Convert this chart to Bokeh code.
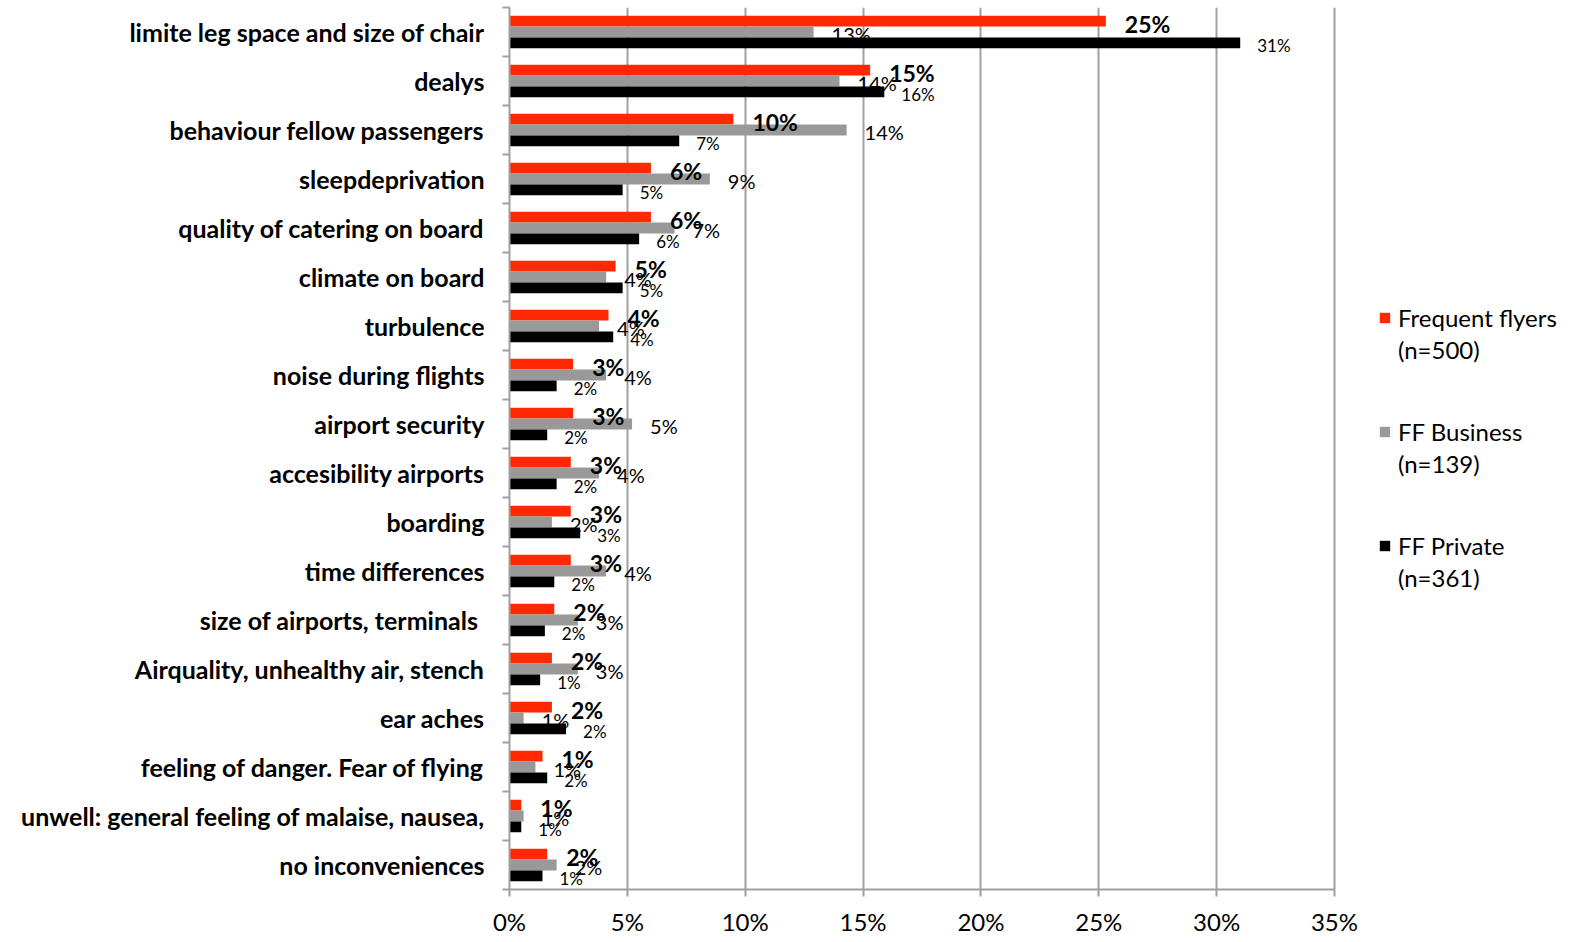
from bokeh.plotting import figure
from bokeh.models import (Range1d, LinearAxis, FixedTicker, ColumnDataSource, Legend, LegendItem)
from bokeh.core.properties import value
from bokeh.embed import file_html
from bokeh.resources import INLINE

categories = [
    "limite leg space and size of chair",
    "dealys",
    "behaviour fellow passengers",
    "sleepdeprivation",
    "quality of catering on board",
    "climate on board",
    "turbulence",
    "noise during flights",
    "airport security",
    "accesibility airports",
    "boarding",
    "time differences",
    "size of airports,  terminals",
    "Airquality, unhealthy air, stench",
    "ear aches",
    "feeling of danger. Fear of flying",
    "unwell: general feeling of malaise, nausea,",
    "no inconveniences",
]
frequent_flyers = [25.3, 15.3, 9.5, 6.0, 6.0, 4.5, 4.2, 2.7, 2.7, 2.6, 2.6, 2.6, 1.9, 1.8, 1.8, 1.4, 0.5, 1.6]
ff_business     = [12.9, 14.0, 14.3, 8.5, 7.0, 4.1, 3.8, 4.1, 5.2, 3.8, 1.8, 4.1, 2.9, 2.9, 0.6, 1.1, 0.6, 2.0]
ff_private      = [31.0, 15.9, 7.2, 4.8, 5.5, 4.8, 4.4, 2.0, 1.6, 2.0, 3.0, 1.9, 1.5, 1.3, 2.4, 1.6, 0.5, 1.4]
series_names = ["Frequent flyers", "FF Business", "FF Private"]
series_n = ["(n=500)", "(n=139)", "(n=361)"]
series_colors = ["#ff2800", "#999999", "#000000"]
x_ticks = [0, 5, 10, 15, 20, 25, 30, 35]

FONT = "Lato"
GRID = "#a0a0a0"
N = len(categories)
centers = [N - i - 0.5 for i in range(N)]

W, H = 1566, 938
LEFT = 509          # frame left in px
AXIS_PX = 825       # pixel length of the 0..35% axis
x_end = x_ticks[-1] * (W - LEFT) / AXIS_PX   # frame extends to the right to hold the legend

p = figure(width=W, height=H, output_backend="svg", toolbar_location=None,
           x_range=Range1d(0, x_end), y_range=Range1d(0, N),
           y_axis_location=None, min_border_left=LEFT, min_border_right=0,
           min_border_top=7, min_border_bottom=46)
p.outline_line_color = None
p.background_fill_color = "white"

# x axis
xa = p.xaxis[0]
xa.ticker = FixedTicker(ticks=x_ticks)
xa.bounds = (x_ticks[0], x_ticks[-1])
xa.major_label_overrides = {t: f"{t}%" for t in x_ticks}
xa.axis_line_color = GRID
xa.axis_line_width = 2
xa.major_tick_line_color = GRID
xa.major_tick_line_width = 2
xa.major_tick_in = 0
xa.major_tick_out = 7
xa.minor_tick_line_color = None
xa.major_label_text_font = FONT
xa.major_label_text_font_size = "24px"
xa.major_label_text_color = "black"
xa.major_label_standoff = 10

p.xgrid.ticker = FixedTicker(ticks=x_ticks)
p.xgrid.grid_line_color = GRID
p.xgrid.grid_line_width = 2
p.ygrid.grid_line_color = None

# left: boundary tick axis (inner) + category label axis (outer)
ta = LinearAxis(ticker=FixedTicker(ticks=list(range(N + 1))))
ta.major_label_overrides = {i: "" for i in range(N + 1)}
ta.major_label_text_font_size = "0px"
ta.major_label_standoff = 0
ta.axis_line_color = GRID
ta.axis_line_width = 2
ta.major_tick_line_color = GRID
ta.major_tick_line_width = 2
ta.major_tick_in = 0
ta.major_tick_out = 7
ta.minor_tick_line_color = None
p.add_layout(ta, "left")

ca = LinearAxis(ticker=FixedTicker(ticks=centers))
ca.major_label_overrides = {c: name for c, name in zip(centers, categories)}
ca.axis_line_color = None
ca.major_tick_line_color = None
ca.minor_tick_line_color = None
ca.major_tick_out = 0
ca.major_tick_in = 0
ca.major_label_standoff = 18
ca.major_label_text_font = FONT
ca.major_label_text_font_style = "bold"
ca.major_label_text_font_size = "25px"
ca.major_label_text_color = "black"
p.add_layout(ca, "left")

def lab(v):
    return f"{int(v + 0.5)}%"

offsets = [0.22, 0.0, -0.22]
label_sizes = ["23px", "20px", "17px"]
label_styles = ["bold", "normal", "normal"]
label_dx = [19, 18, 17]
label_dy = [3, 2, 3]
all_vals = [frequent_flyers, ff_business, ff_private]
sources = [ColumnDataSource(dict(y=[c + off for c in centers], val=vals, lab=[lab(v) for v in vals]))
           for vals, off in zip(all_vals, offsets)]

renderers = []
for src, col in zip(sources, series_colors):
    r = p.hbar(y="y", left=0, right="val", height=0.22,
               source=src, fill_color=col, line_color=None)
    renderers.append(r)

for src, fs, st, dx, dy in zip(sources, label_sizes, label_styles, label_dx, label_dy):
    p.text(x="val", y="y", text="lab", source=src,
           x_offset=dx, y_offset=dy, text_align="left", text_baseline="middle",
           text_font=value(FONT), text_font_size=fs, text_font_style=st, text_color="black")

# invisible renderer for second legend lines
blank_src = ColumnDataSource(dict(y=[], val=[]))
blank = p.hbar(y="y", left=0, right="val", height=0.1, source=blank_src,
               fill_alpha=0, line_alpha=0)

legend_y = [524, 410, 296]
for r, name, n, ly in zip(renderers, series_names, series_n, legend_y):
    lg = Legend(items=[LegendItem(label=name, renderers=[r]), LegendItem(label=n, renderers=[blank])],
                location=(869, ly))
    lg.padding = 0
    lg.margin = 0
    lg.spacing = 0
    lg.border_line_color = None
    lg.background_fill_alpha = 0
    lg.glyph_width = 13
    lg.glyph_height = 13
    lg.label_height = 32
    lg.label_standoff = 7
    lg.label_text_font = FONT
    lg.label_text_font_size = "24px"
    lg.label_text_color = "black"
    p.add_layout(lg)

open("out.html", "w").write(file_html(p, INLINE))
